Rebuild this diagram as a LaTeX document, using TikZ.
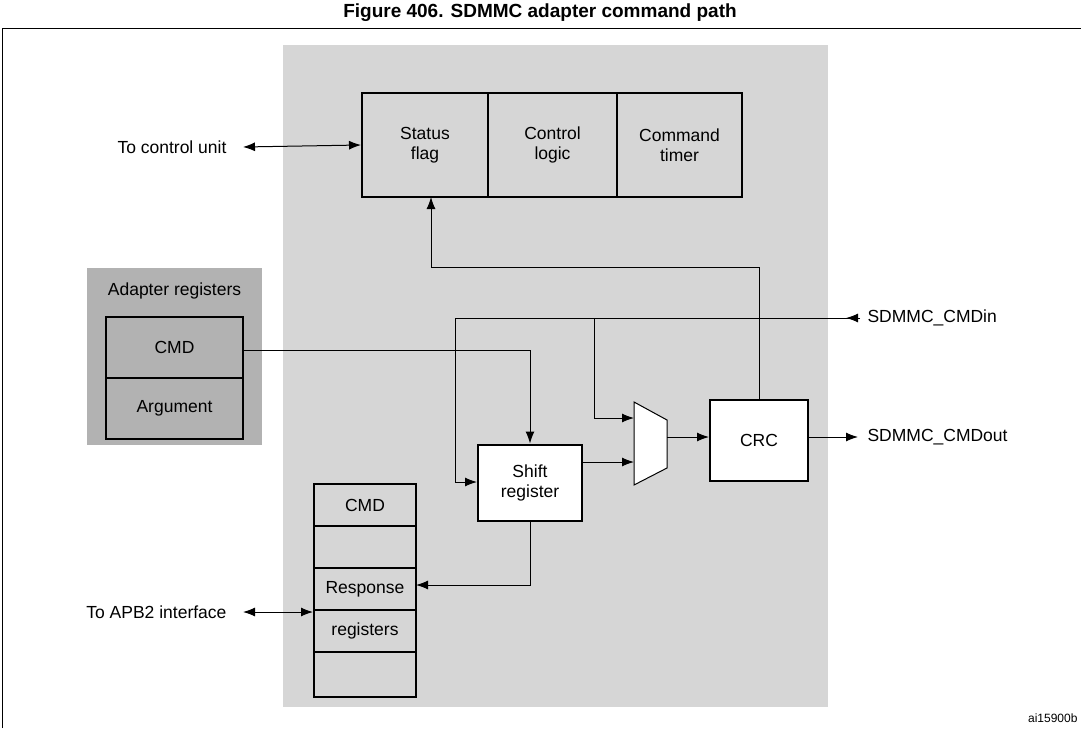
\documentclass[tikz,border=0pt]{standalone}
\usepackage{fontspec}
\setmainfont{Liberation Sans}
\usetikzlibrary{arrows.meta}
\begin{document}
\begin{tikzpicture}[x=1pt,y=-1pt,
  every node/.style={font=\fontsize{17.5}{20}\selectfont,align=center},
  blk/.style={draw,line width=2pt},
  ln/.style={line width=1pt},
  arr/.style={ln,-{Latex[length=12pt,width=9pt]}},
  darr/.style={ln,{Latex[length=12pt,width=9pt]}-{Latex[length=12pt,width=9pt]}}]
\useasboundingbox (0,0) rectangle (1081,728);
\node[font=\bfseries\fontsize{19}{22}\selectfont] (title) at (540,13) {Figure 406. SDMMC adapter command path};
\draw[line width=1pt] (2,728) -- (2,28) -- (1081,28);
\fill[black!16] (283,45) rectangle (828,707);
% top blocks
\node[blk,fill=black!16,minimum width=126pt,minimum height=104pt] (sf) at (425,145) {Status\\flag};
\node[blk,fill=black!16,minimum width=129pt,minimum height=104pt] (cl) at (552.5,145) {Control\\logic};
\node[blk,fill=black!16,minimum width=125pt,minimum height=104pt] (ct) at (679.5,145) {Command\\timer};
% adapter registers
\fill[black!30] (87,268) rectangle (262,445);
\node (adl) at (174.5,291) {Adapter registers};
\node[blk,fill=black!30,minimum width=137pt,minimum height=61pt] (acmd) at (174.5,347.5) {CMD};
\node[blk,fill=black!30,minimum width=137pt,minimum height=61pt] (aarg) at (174.5,408.5) {Argument};
% response stack
\node[blk,fill=black!16,minimum width=102pt,minimum height=42pt] (r1) at (365,505) {CMD};
\node[blk,fill=black!16,minimum width=102pt,minimum height=42pt] (r2) at (365,547) {};
\node[blk,fill=black!16,minimum width=102pt,minimum height=42pt] (r3) at (365,589) {Response};
\node[blk,fill=black!16,minimum width=102pt,minimum height=42pt] (r4) at (365,631) {registers};
\node[blk,fill=black!16,minimum width=102pt,minimum height=45pt] (r5) at (365,674.5) {};
% shift, crc, mux
\node[blk,fill=white,minimum width=104pt,minimum height=76pt] (sh) at (530,482.5) {Shift\\register};
\node[blk,fill=white,minimum width=98pt,minimum height=81pt] (crc) at (759,440.5) {CRC};
\draw[ln,fill=white] (634,402) -- (667,420) -- (667,468) -- (634,485) -- cycle;
% labels
\node[anchor=east] (tcu) at (230,147) {To control unit};
\node[anchor=east] (tapb) at (230,612) {To APB2 interface};
\node[anchor=west] (cin) at (864,318) {SDMMC\_CMDin};
\node[anchor=west] (cout) at (864,437) {SDMMC\_CMDout};
\node[font=\fontsize{12}{14}\selectfont,anchor=east] (id) at (1081,718) {ai15900b};
% connectors
\draw[darr] (243,147) -- (sf.west);
\draw[darr] (243,612) -- (r4.west |- 0,612);
\coordinate (cinend) at (858,318);
\draw[ln] (cinend) -- (455,318) -- (455,482);
\draw[ln,-{Latex[length=12pt,width=9pt]}] (860,318) -- (846,318);
\draw[arr] (455,482) -- (sh.west |- 0,482);
\draw[arr] (594,318) -- (594,418) -- (634,418);
\draw[arr] (sh.east |- 0,462) -- (634,462);
\draw[arr] (667,437) -- (crc.west |- 0,437);
\draw[arr] (crc.east |- 0,437) -- (858,437);
\draw[arr] (crc.north) -- (759,267) -- (431,267) -- (431,197);
\draw[arr] (acmd.east |- 0,350) -- (530,350) -- (sh.north);
\draw[arr] (sh.south) -- (530,585) -- (416,585);
\end{tikzpicture}
\end{document}
